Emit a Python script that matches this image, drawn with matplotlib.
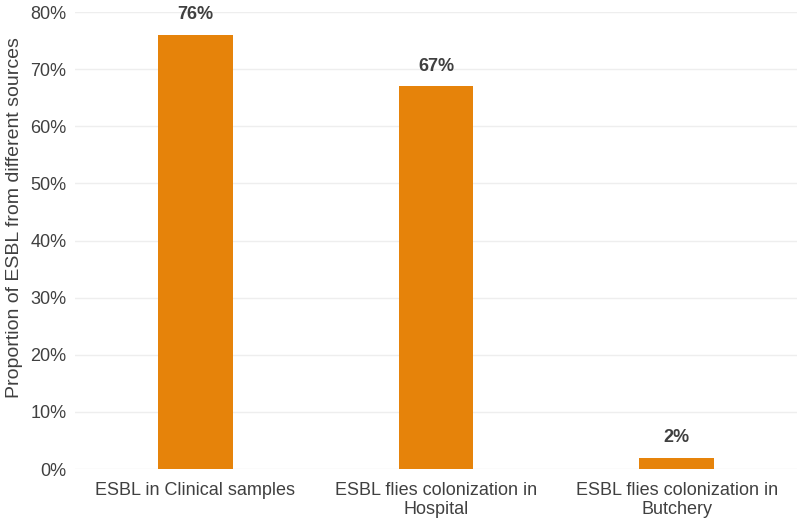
import matplotlib
matplotlib.use("Agg")
import matplotlib.pyplot as plt
from matplotlib.ticker import PercentFormatter

plt.rcParams['font.family'] = ['Liberation Sans', 'DejaVu Sans']

categories = ["ESBL in Clinical samples",
              "ESBL flies colonization in\nHospital",
              "ESBL flies colonization in\nButchery"]
values = [76, 67, 2]
yticks = [0, 10, 20, 30, 40, 50, 60, 70, 80]

text_color = "#404040"
bar_color = "#E6830A"

fig = plt.figure(figsize=(7.97, 5.23), dpi=100)
ax = fig.add_axes([0.094, 0.103, 0.906, 0.874])

x = range(len(categories))
bars = ax.bar(x, values, width=0.31, color=bar_color, zorder=3)
for b, v in zip(bars, values):
    ax.text(b.get_x() + b.get_width() / 2, v + 2.0, f"{v}%", ha="center", va="bottom",
            fontsize=13, fontweight="bold", color=text_color)

ax.set_xlim(-0.5, 2.5)
ax.set_ylim(0, 80)
ax.set_yticks(yticks)
ax.yaxis.set_major_formatter(PercentFormatter(decimals=0))
ax.set_xticks(list(x))
ax.set_xticklabels(categories, linespacing=1.15)
ax.tick_params(axis="both", length=0, labelsize=13, colors=text_color)
ax.tick_params(axis="x", pad=9)
ax.tick_params(axis="y", pad=6)
ax.grid(axis="y", color="#EEEEEE", linewidth=1, zorder=0)
for s in ax.spines.values():
    s.set_visible(False)
ax.set_ylabel("Proportion of ESBL from different sources", fontsize=14, color=text_color)
ax.yaxis.set_label_coords(-0.072, 0.55)

fig.savefig("out.png", dpi=100)
